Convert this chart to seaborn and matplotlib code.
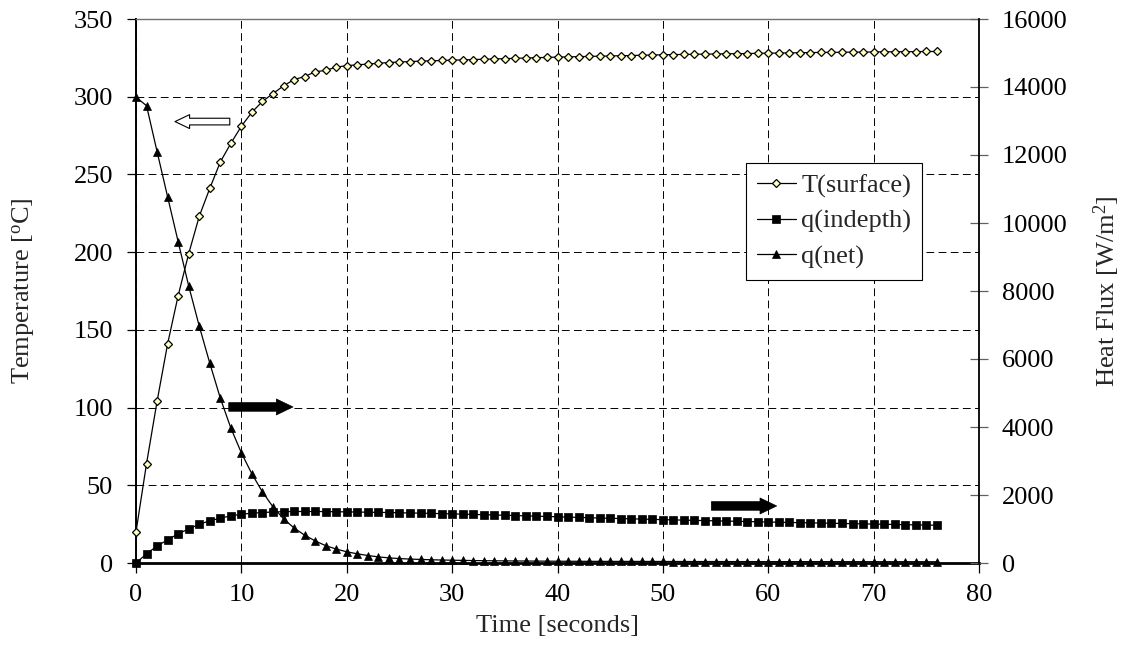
import matplotlib
matplotlib.use('Agg')
import matplotlib.pyplot as plt
import seaborn as sns
import pandas as pd

# ---------------- data ----------------
time_s = list(range(77))

t_surface = [20, 64, 104, 141, 172, 199, 223, 241, 258, 270,
             281, 290, 297, 302, 307, 311, 313, 316, 317, 319,
             320, 320.5, 321, 321.5, 322, 322.3, 322.6, 322.9, 323.1, 323.3,
             323.5, 323.7, 323.9, 324.1, 324.3, 324.5, 324.7, 324.9, 325.1, 325.3,
             325.5, 325.6, 325.8, 325.9, 326.1, 326.2, 326.4, 326.5, 326.7, 326.8,
             327.0, 327.1, 327.2, 327.3, 327.4, 327.5, 327.6, 327.7, 327.8, 327.9,
             328.0, 328.1, 328.2, 328.3, 328.4, 328.5, 328.5, 328.6, 328.7, 328.7,
             328.8, 328.9, 328.9, 329.0, 329.0, 329.1, 329.1]

q_indepth = [0, 270, 500, 680, 860, 1000, 1140, 1240, 1320, 1385,
             1435, 1465, 1485, 1500, 1510, 1515, 1515, 1515, 1512, 1508,
             1503, 1499, 1494, 1489, 1484, 1478, 1472, 1466, 1459, 1452,
             1445, 1437, 1429, 1421, 1412, 1404, 1395, 1386, 1377, 1368,
             1359, 1350, 1341, 1332, 1323, 1315, 1307, 1299, 1291, 1283,
             1275, 1268, 1261, 1254, 1247, 1240, 1233, 1226, 1219, 1212,
             1205, 1199, 1193, 1187, 1181, 1175, 1169, 1163, 1157, 1151,
             1145, 1139, 1133, 1127, 1121, 1115, 1110]

q_net = [13700, 13450, 12100, 10770, 9450, 8150, 6970, 5880, 4850, 3970,
         3240, 2620, 2090, 1650, 1300, 1030, 820, 650, 510, 410,
         330, 270, 220, 180, 150, 130, 115, 105, 95, 88,
         82, 77, 72, 68, 65, 62, 60, 58, 56, 54,
         52, 51, 50, 49, 48, 47, 47, 46, 46, 45,
         45, 44, 44, 43, 43, 43, 42, 42, 42, 41,
         41, 41, 40, 40, 40, 40, 39, 39, 39, 39,
         38, 38, 38, 38, 38, 37, 37]

series_labels = ['T(surface)', 'q(indepth)', 'q(net)']
x_ticks = list(range(0, 81, 10))
temp_ticks = list(range(0, 351, 50))
flux_ticks = list(range(0, 16001, 2000))

# ---------------- style ----------------
sns.set_theme(style='white')
plt.rcParams['font.family'] = ['Liberation Serif', 'DejaVu Serif']
plt.rcParams['mathtext.fontset'] = 'custom'
plt.rcParams['mathtext.rm'] = 'Liberation Serif'
plt.rcParams['mathtext.it'] = 'Liberation Serif:italic'
FS = 19

df = pd.DataFrame({'time': time_s, 'T': t_surface,
                   'qi': q_indepth, 'qn': q_net})

fig = plt.figure(figsize=(11.24, 6.55), dpi=100)
ax = fig.add_axes([136 / 1124, 1 - 563 / 655, 843 / 1124, 544 / 655])
ax2 = ax.twinx()

sns.lineplot(data=df, x='time', y='T', ax=ax, color='black', lw=0.9,
             marker='D', ms=4.3, mfc='#FFFFC0', mec='black', mew=0.9,
             legend=False, clip_on=False, zorder=5)
sns.lineplot(data=df, x='time', y='qi', ax=ax2, color='black', lw=0.9,
             marker='s', ms=5.8, mfc='black', mec='black', mew=0.5,
             legend=False, clip_on=False, zorder=5)
sns.lineplot(data=df, x='time', y='qn', ax=ax2, color='black', lw=0.9,
             marker='^', ms=5.8, mfc='black', mec='black', mew=0.5,
             legend=False, clip_on=False, zorder=5)

lines = [ax.get_lines()[0]] + list(ax2.get_lines()[:2])
for ln, lab in zip(lines, series_labels):
    ln.set_label(lab)

ax.set_xlim(x_ticks[0], x_ticks[-1])
ax.set_ylim(temp_ticks[0], temp_ticks[-1])
ax2.set_ylim(flux_ticks[0], flux_ticks[-1])
ax.set_xticks(x_ticks)
ax.set_yticks(temp_ticks)
ax2.set_yticks(flux_ticks)

ax.grid(True, color='black', linestyle=(0, (8, 4.5)), linewidth=0.7)
ax.set_axisbelow(True)

ax.set_xlabel('Time [seconds]', fontsize=FS)
ax.set_ylabel(r'Temperature [$^{\mathrm{o}}$C]', fontsize=FS)
ax2.set_ylabel(r'Heat Flux [W/m$^{2}$]', fontsize=FS, rotation=90)
ax.xaxis.set_label_coords(0.5, -0.095)
ax.yaxis.set_label_coords(-0.118, 0.5)
ax2.yaxis.set_label_coords(1.133, 0.5)

ax.tick_params(axis='x', direction='out', length=7, width=0.9, pad=8,
               labelsize=FS, colors='black', bottom=True)
ax.tick_params(axis='y', direction='out', length=6.5, width=0.9, pad=10,
               labelsize=FS, colors='black', left=True)
ax2.tick_params(axis='y', direction='inout', length=13, width=0.9, pad=10,
                labelsize=FS, color='#606060', labelcolor='black', right=True)

for s in ['left', 'bottom']:
    ax.spines[s].set_color('black')
ax.spines['left'].set_linewidth(1.4)
ax.spines['bottom'].set_linewidth(2.0)
ax.spines['top'].set_color('#707070')
ax.spines['top'].set_linewidth(1.0)
ax.spines['right'].set_visible(False)
for s in ['left', 'top', 'bottom']:
    ax2.spines[s].set_visible(False)
ax2.spines['right'].set_color('black')
ax2.spines['right'].set_linewidth(1.3)

# arrows indicating axes
ax.annotate('', xy=(3.7, 284), xytext=(8.9, 284),
            arrowprops=dict(arrowstyle='simple,head_length=1.05,head_width=1.0,tail_width=0.48',
                            fc='white', ec='black', lw=0.8, shrinkA=0, shrinkB=0,
                            mutation_scale=10), zorder=6)
ax.annotate('', xy=(14.9, 100.4), xytext=(8.8, 100.4),
            arrowprops=dict(arrowstyle='simple,head_length=1.2,head_width=1.15,tail_width=0.62',
                            fc='black', ec='black', lw=0.5, shrinkA=0, shrinkB=0,
                            mutation_scale=10), zorder=6)
ax.annotate('', xy=(60.8, 36.7), xytext=(54.6, 36.7),
            arrowprops=dict(arrowstyle='simple,head_length=1.2,head_width=1.15,tail_width=0.62',
                            fc='black', ec='black', lw=0.5, shrinkA=0, shrinkB=0,
                            mutation_scale=10), zorder=6)

leg = ax2.legend(lines, series_labels, loc='upper left',
                 bbox_to_anchor=(0.7236, 0.735), borderaxespad=0,
                 frameon=True, fancybox=False, framealpha=1,
                 edgecolor='black', fontsize=FS, handlelength=1.5,
                 handletextpad=0.2, borderpad=0.4, labelspacing=0.45)
leg.get_frame().set_linewidth(0.8)
leg.set_zorder(10)

fig.savefig('out.png', dpi=100)
